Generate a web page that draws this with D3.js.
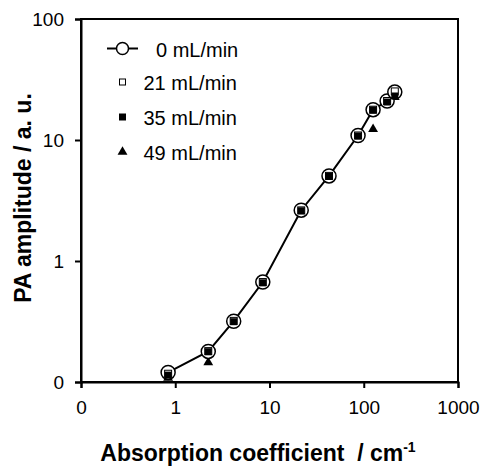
<!DOCTYPE html>
<html>
<head>
<meta charset="utf-8">
<script src="https://cdn.jsdelivr.net/npm/d3@7"></script>
<style>
  body { margin: 0; background: #fff; }
  text { font-family: "Liberation Sans", Arial, sans-serif; fill: #000; }
</style>
</head>
<body>
<div id="chart"></div>
<script>
// absorption coefficient (cm-1) shared by all series
const absorption = [0.84, 2.24, 4.17, 8.49, 21.7, 42.8, 87, 125.6, 177, 213.5];
// PA amplitude per flow rate
const flow0  = [0.12, 0.179, 0.318, 0.67, 2.63, 5.05, 10.9, 17.8, 21.0, 24.9];
const flow21 = [0.117, 0.18, 0.32, 0.67, 2.62, 5.05, 10.9, 17.8, 21.0, 25.2];
const flow35 = [0.114, 0.178, 0.315, 0.66, 2.6, 5.0, 10.8, 17.7, 20.6, 23.1];
const flow49 = [0.11, 0.148, 0.31, 0.65, 2.6, 5.0, 10.8, 12.5, 20.5, 23.0];

const xTicks = [0.1, 1, 10, 100, 1000];
const xTickLabels = ["0", "1", "10", "100", "1000"];
const yTicks = [0.1, 1, 10, 100];
const yTickLabels = ["0", "1", "10", "100"];
const legendLabels = ["0 mL/min", "21 mL/min", "35 mL/min", "49 mL/min"];

var width = 481, height = 468;
var pLeft = 81, pRight = 458, pTop = 19, pBottom = 382;

var svg = d3.select("#chart").append("svg")
    .attr("width", width)
    .attr("height", height);

var x = d3.scaleLog().domain([0.1, 1000]).range([pLeft, pRight]);
var y = d3.scaleLog().domain([0.1, 100]).range([pBottom, pTop]);

// frame
svg.append("rect")
    .attr("x", pLeft).attr("y", pTop)
    .attr("width", pRight - pLeft).attr("height", pBottom - pTop)
    .attr("fill", "none").attr("stroke", "#000").attr("stroke-width", 2);

var xAxis = svg.append("g")
    .attr("transform", "translate(0," + pBottom + ")")
    .call(d3.axisBottom(x).tickValues(xTicks)
      .tickFormat(function(d, i) { return xTickLabels[i]; })
      .tickSize(6).tickPadding(13));
var yAxis = svg.append("g")
    .attr("transform", "translate(" + pLeft + ",0)")
    .call(d3.axisLeft(y).tickValues(yTicks)
      .tickFormat(function(d, i) { return yTickLabels[i]; })
      .tickSize(6).tickPadding(11));

[xAxis, yAxis].forEach(function(g) {
  g.select(".domain").attr("stroke-width", 2);
  g.selectAll(".tick line").attr("stroke-width", 2);
  g.selectAll(".tick text").style("font-size", "19px")
    .style("font-family", "'Liberation Sans', Arial, sans-serif");
});

// axis titles
svg.append("text")
    .attr("x", 258).attr("y", 461)
    .attr("text-anchor", "middle")
    .style("font-size", "23px").style("font-weight", "bold")
    .style("white-space", "pre")
    .text("Absorption coefficient  / cm")
  .append("tspan")
    .attr("dy", -9).style("font-size", "14px")
    .text("-1");

svg.append("text")
    .attr("transform", "translate(31,198)rotate(-90)")
    .attr("text-anchor", "middle")
    .style("font-size", "23px").style("font-weight", "bold")
    .text("PA amplitude / a. u.");

var tri = d3.symbol().type(d3.symbolTriangle).size(42);
var pts = function(arr) { return arr.map(function(v, i) { return [absorption[i], v]; }); };

// 49 mL/min triangles (under the circles)
svg.append("g").selectAll("path")
    .data(pts(flow49))
  .enter().append("path")
    .attr("d", tri)
    .attr("transform", function(d) { return "translate(" + x(d[0]) + "," + (y(d[1]) + 1) + ")"; })
    .attr("fill", "#000");

// 0 mL/min line + circles
var line = d3.line().x(function(d) { return x(d[0]); }).y(function(d) { return y(d[1]); });
svg.append("path")
    .datum(pts(flow0))
    .attr("d", line)
    .attr("fill", "none").attr("stroke", "#000").attr("stroke-width", 2);
svg.append("g").selectAll("circle")
    .data(pts(flow0))
  .enter().append("circle")
    .attr("cx", function(d) { return x(d[0]); })
    .attr("cy", function(d) { return y(d[1]); })
    .attr("r", 7)
    .attr("fill", "#fff").attr("stroke", "#000").attr("stroke-width", 1.5);

// 21 mL/min open squares
svg.append("g").selectAll("rect")
    .data(pts(flow21))
  .enter().append("rect")
    .attr("x", function(d) { return x(d[0]) - 3.5; })
    .attr("y", function(d) { return y(d[1]) - 3.5; })
    .attr("width", 7).attr("height", 7)
    .attr("fill", "#fff").attr("stroke", "#000").attr("stroke-width", 1);

// 35 mL/min filled squares
svg.append("g").selectAll("rect")
    .data(pts(flow35))
  .enter().append("rect")
    .attr("x", function(d) { return x(d[0]) - 3.5; })
    .attr("y", function(d) { return y(d[1]) - 3.5; })
    .attr("width", 7).attr("height", 7)
    .attr("fill", "#000");

// legend
var leg = svg.append("g");
var legY = [48.5, 82, 117, 151];
var legBase = [56.7, 90, 125, 160];
leg.append("line").attr("x1", 107).attr("x2", 138).attr("y1", legY[0]).attr("y2", legY[0])
    .attr("stroke", "#000").attr("stroke-width", 2);
leg.append("circle").attr("cx", 122.5).attr("cy", legY[0]).attr("r", 6)
    .attr("fill", "#fff").attr("stroke", "#000").attr("stroke-width", 1.5);
leg.append("rect").attr("x", 119.5).attr("y", legY[1] - 3).attr("width", 6).attr("height", 6)
    .attr("fill", "#fff").attr("stroke", "#000").attr("stroke-width", 1);
leg.append("rect").attr("x", 119).attr("y", legY[2] - 3.5).attr("width", 7).attr("height", 7)
    .attr("fill", "#000");
leg.append("path").attr("d", tri)
    .attr("transform", "translate(122.5," + (legY[3] + 1) + ")").attr("fill", "#000");

leg.selectAll("text")
    .data(legendLabels)
  .enter().append("text")
    .attr("x", function(d, i) { return i === 0 ? 156 : 143.5; })
    .attr("y", function(d, i) { return legBase[i]; })
    .style("font-size", "20px")
    .text(function(d) { return d; });
</script>
</body>
</html>
